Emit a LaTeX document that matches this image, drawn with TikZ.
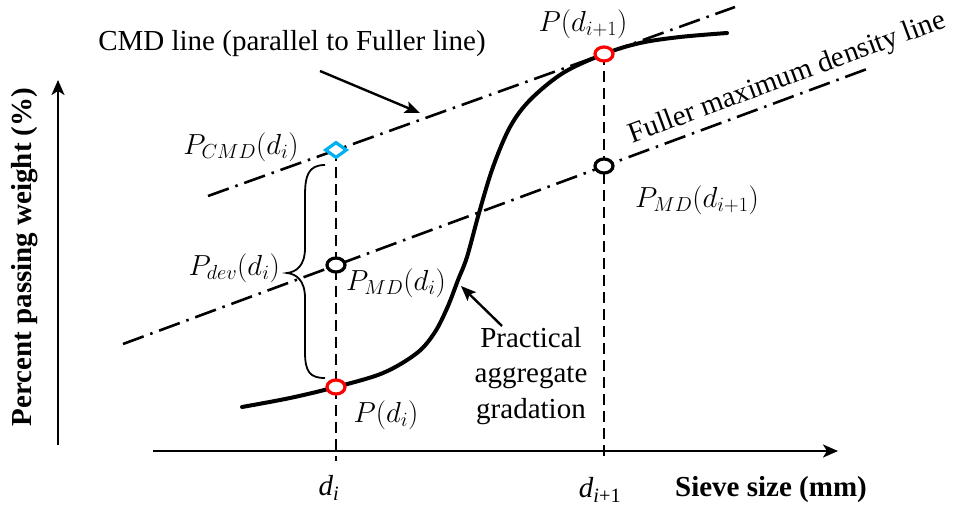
\RequirePackage{fix-cm}
\documentclass[tikz,border=0pt]{standalone}
\usepackage{fontspec}
\setmainfont{Liberation Serif}
\usetikzlibrary{arrows.meta,shapes.geometric}
\definecolor{cmdblue}{RGB}{0,176,240}
\definecolor{ringred}{RGB}{255,0,0}
\tikzset{
  lbl/.style={font=\fontsize{29}{35}\selectfont, inner sep=0pt},
  boldlbl/.style={font=\fontsize{29}{35}\selectfont\bfseries, inner sep=0pt},
  axisline/.style={line width=2.4pt, -{Stealth[length=15pt,width=13pt,inset=4pt]}},
  dashdot/.style={line width=2.6pt, dash pattern=on 22pt off 7pt on 2.5pt off 7pt},
  vdash/.style={line width=2.8pt, dash pattern=on 11pt off 6pt},
  gradcurve/.style={line width=4pt, line cap=round},
  pointer/.style={line width=2.4pt, -{Stealth[length=15pt,width=12pt,inset=3pt]}},
  ring/.style={ellipse, draw=#1, fill=white, line width=3.2pt, minimum width=18pt, minimum height=14pt, inner sep=0pt},
  cmdmark/.style={diamond, draw=cmdblue, fill=white, line width=3.2pt, aspect=1.4, minimum width=22pt, minimum height=16pt, inner sep=0pt},
  bracestyle/.style={line width=1.8pt}
}
\begin{document}
\begin{tikzpicture}[x=1pt,y=-1pt]
\useasboundingbox (0,0) rectangle (958,508);
% axes
\coordinate (yB) at (58,445);
\coordinate (yT) at (58,80);
\coordinate (xL) at (153,451);
\coordinate (xR) at (838,451);
\draw[axisline] (yB) -- (yT);
\draw[axisline] (xL) -- (xR);
% key points
\coordinate (cmdpt) at (336,150);
\coordinate (mdi) at (336,265);
\coordinate (pdi) at (336,387);
\coordinate (pdn) at (604,54);
\coordinate (mdn) at (604,166);
\coordinate (tickA) at (336,461);
\coordinate (tickB) at (604,461);
% dash-dot lines
\coordinate (cmdA) at (208,196);
\coordinate (cmdB) at (735,7);
\coordinate (fulA) at (123,344);
\coordinate (fulB) at (867,69);
\draw[dashdot] (cmdA) -- (cmdB);
\draw[dashdot] (fulA) -- (fulB);
% vertical dashed lines
\draw[vdash] (cmdpt) -- (tickA);
\draw[vdash] (pdn) -- (tickB);
% practical gradation curve
\draw[gradcurve] plot[smooth, tension=0.55] coordinates {(242,407) (290,398) (336,387) (383,373) (417,353) (435,332) (448,306) (458,280) (467,257) (479,213) (493,167) (510,127) (530,100) (563,73) (604,54) (640,43) (680,37) (727,33)};
% brace
\draw[bracestyle] (325,165) .. controls (308,165) and (305,176) .. (305,196) -- (305,248) .. controls (305,266) and (296,272) .. (287,273) .. controls (296,274) and (305,280) .. (305,298) -- (305,352) .. controls (305,372) and (310,378) .. (325,378);
% markers
\node[cmdmark] (cmdm) at (cmdpt) {};
\node[ring=black] (mdim) at (mdi) {};
\node[ring=ringred] (pdim) at (pdi) {};
\node[ring=ringred] (pdnm) at (pdn) {};
\node[ring=black] (mdnm) at (mdn) {};
% labels
\node[lbl] (lcmd) at (241,147) {$P_{CMD}(d_i)$};
\node[lbl, anchor=east] (ldev) at (280,268) {$P_{dev}(d_i)$};
\node[lbl] (lmdi) at (396,283) {$P_{MD}(d_i)$};
\node[lbl] (lpdi) at (386,415) {$P(d_i)$};
\node[lbl] (lpdn) at (583,24) {$P(d_{i+1})$};
\node[lbl] (lmdn) at (697,200) {$P_{MD}(d_{i+1})$};
\node[lbl] (ldi) at (329,488) {\textit{d}\textsubscript{\textit{i}}};
\node[lbl] (ldn) at (600,490) {\textit{d}\textsubscript{\textit{i}+1}};
\node[boldlbl] (lsieve) at (771,490) {Sieve size (mm)};
\node[boldlbl, rotate=90] (lperc) at (25,257) {Percent passing weight (\%)};
\node[lbl] (lcmdline) at (292,44) {CMD line (parallel to Fuller line)};
\node[lbl, anchor=base, rotate=20.3] (lfuller) at (790,85) {Fuller maximum density line};
\node[lbl, align=center, font=\fontsize{29}{35.5}\selectfont] (lprac) at (531,376) {Practical\\aggregate\\gradation};
% pointers
\coordinate (cmdarS) at (320,71);
\coordinate (cmdarE) at (420,113);
\coordinate (pracS) at (502,326);
\coordinate (pracE) at (461,286);
\draw[pointer] (cmdarS) -- (cmdarE);
\draw[pointer] (pracS) -- (pracE);
\end{tikzpicture}
\end{document}
